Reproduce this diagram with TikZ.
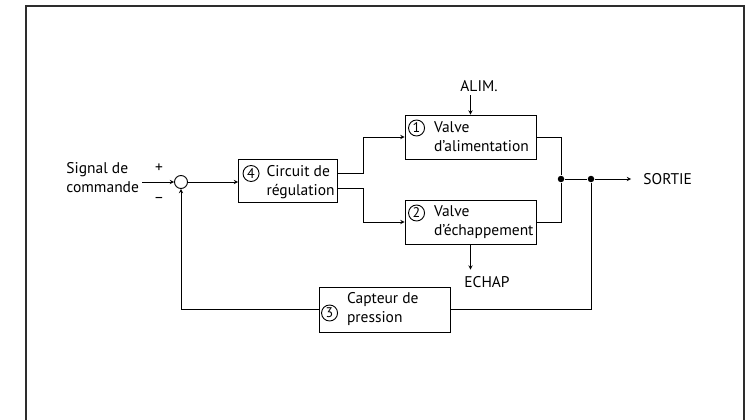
\documentclass[tikz,border=0pt]{standalone}
\usepackage{fontspec}
\setmainfont{PT Sans}
\usepackage{xcolor}
\usetikzlibrary{arrows,positioning,calc}
\definecolor{framegray}{RGB}{45,45,45}

\begin{document}
\begin{tikzpicture}[x=1pt, y=1pt, font=\fontsize{15.5}{19}\selectfont,
    block/.style={rectangle, draw, minimum width=131, minimum height=44, inner sep=0},
    txt/.style={align=left, inner sep=0, anchor=west},
    num/.style={circle, draw, inner sep=0, minimum size=16, font=\fontsize{14}{14}\selectfont},
    dot/.style={circle, fill, inner sep=0, minimum size=6.5},
    arr/.style={->, >=stealth},
    line width=0.9pt]

    \useasboundingbox (0,0) rectangle (750,-420);
    \draw[framegray, line width=2pt] (26,-425) |- (744,-6) -- (744,-425);

    % blocks
    \node[circle, draw, minimum size=13, inner sep=0] (sum) at (181,-182) {};
    \node[block, minimum width=98.5, minimum height=43] (circuit) at (287.75,-180.5) {};
    \node[block] (valve1) at (470.5,-137) {};
    \node[block] (valve2) at (470.5,-222) {};
    \node[block, minimum height=45] (capteur) at (384.5,-309.5) {};

    \node[txt] (circuit-t) at ([xshift=28pt,yshift=-2pt]circuit.west) {Circuit de\\régulation};
    \node[txt] (valve1-t) at ([xshift=29pt]valve1.west) {Valve\\d’alimentation};
    \node[txt] (valve2-t) at ([xshift=29pt]valve2.west) {Valve\\d’échappement};
    \node[txt] (capteur-t) at ([xshift=28pt]capteur.west) {Capteur de\\pression};

    \node[num] (n4) at ([xshift=13pt,yshift=7pt]circuit.west) {4};
    \node[num] (n1) at ([xshift=12pt,yshift=9pt]valve1.west) {1};
    \node[num] (n2) at ([xshift=12pt,yshift=9pt]valve2.west) {2};
    \node[num] (n3) at ([xshift=11pt,yshift=-3.5pt]capteur.west) {3};

    % labels
    \node[txt] (signal) at (66,-178) {Signal de\\commande};
    \node (plus) at (159,-168) {+};
    \node (minus) at (159,-200) {–};
    \node (alim) at (479,-86) {ALIM.};
    \node (echap) at (487,-282) {ECHAP};
    \node[txt] (sortie) at (643,-179) {SORTIE};
    \node[dot] (j1) at (561,-179) {};
    \node[dot] (j2) at (591,-179) {};

    % connections
    \draw[arr] ([xshift=3pt]signal.east |- sum.west) -- (sum.west);
    \draw[arr] (sum.east) -- (sum.east -| circuit.west);
    \draw[arr] ([yshift=7.5pt]circuit.east) -- ++(26,0) |- (valve1.west);
    \draw[arr] ([yshift=-7.5pt]circuit.east) -- ++(26,0) |- (valve2.west);
    \draw[arr] (alim.south -| valve1.north) -- (valve1.north);
    \draw[arr] (valve2.south) -- ([yshift=3pt]valve2.south |- echap.north);
    \draw (valve1.east) -| (j1);
    \draw (valve2.east) -| (j1);
    \draw (j1) -- (j2);
    \draw[arr] (j2) -- ([xshift=-12pt]sortie.west);
    \draw (j2) |- (capteur.east);
    \draw[arr] (capteur.west) -| (sum.south);
\end{tikzpicture}
\end{document}
